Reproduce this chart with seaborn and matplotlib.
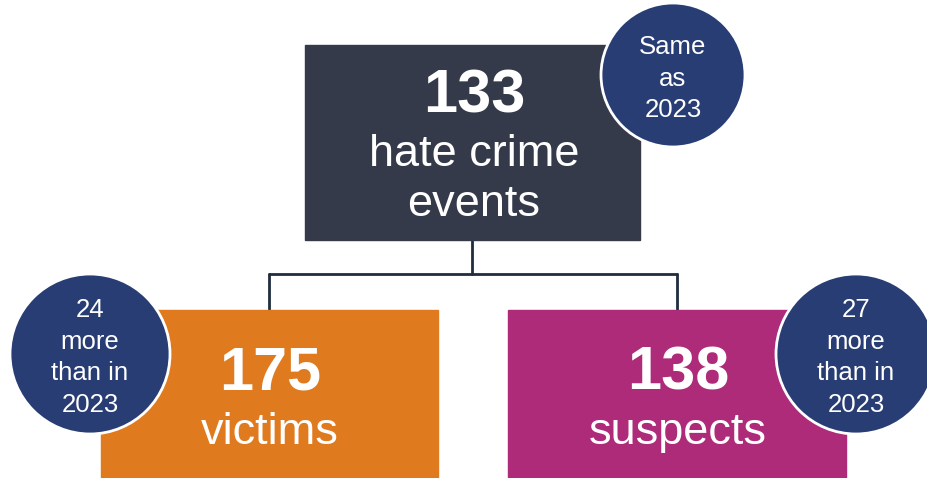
import matplotlib.pyplot as plt
import seaborn as sns
from matplotlib.patches import Rectangle, Circle

# values
box_numbers = ['133', '175', '138']
box_labels = [['hate crime', 'events'], ['victims'], ['suspects']]
badge_texts = [['Same', 'as', '2023'],
               ['24', 'more', 'than in', '2023'],
               ['27', 'more', 'than in', '2023']]

# colours
box_colors = ['#353a4a', '#e07a1f', '#ae2b7a']
badge_color = '#283d74'
line_color = '#1f2d3d'

# layout in pixel units (x, y top, width, height)
boxes = [(305, 45, 335, 195), (101, 310, 337, 168), (508, 310, 338, 168)]
badges = [(673, 75, 72), (90, 354, 80), (856, 354, 80)]

sns.set_theme(style='white')
plt.rcParams['font.family'] = ['Liberation Sans', 'DejaVu Sans']

fig = plt.figure(figsize=(9.27, 4.78), dpi=100)
ax = fig.add_axes([0, 0, 1, 1])
ax.set_xlim(0, 927)
ax.set_ylim(478, 0)
ax.axis('off')

# boxes
for (x, y, w, h), c in zip(boxes, box_colors):
    ax.add_patch(Rectangle((x, y), w, h, color=c, zorder=1))

# connectors
cx_top = boxes[0][0] + boxes[0][2] / 2
ax.plot([cx_top, cx_top], [240, 274], color=line_color, lw=2, zorder=0)
ax.plot([269, 677], [274, 274], color=line_color, lw=2, zorder=0)
ax.plot([269, 269], [274, 310], color=line_color, lw=2, zorder=0)
ax.plot([677, 677], [274, 310], color=line_color, lw=2, zorder=0)

# box text: (x centre, number y, first label y)
text_pos = [(474, 90, 150), (270, 368, 428), (678, 368, 428)]
for (xc, ny, ly), num, labels in zip(text_pos, box_numbers, box_labels):
    ax.text(xc, ny, num, color='white', fontsize=44, fontweight='bold',
            ha='center', va='center_baseline', zorder=3)
    for k, lab in enumerate(labels):
        ax.text(xc, ly + 50 * k, lab, color='white', fontsize=32.5,
                ha='center', va='center_baseline', zorder=3)

# badges
for (bx, by, r), lines in zip(badges, badge_texts):
    ax.add_patch(Circle((bx, by), r, facecolor=badge_color, edgecolor='white',
                        lw=2, zorder=4))
    n = len(lines)
    for k, t in enumerate(lines):
        ty = by + 1 + (k - (n - 1) / 2) * 31.5
        ax.text(bx, ty, t, color='white', fontsize=18.5, ha='center',
                va='center_baseline', zorder=5)

fig.savefig('out.png', dpi=100)
